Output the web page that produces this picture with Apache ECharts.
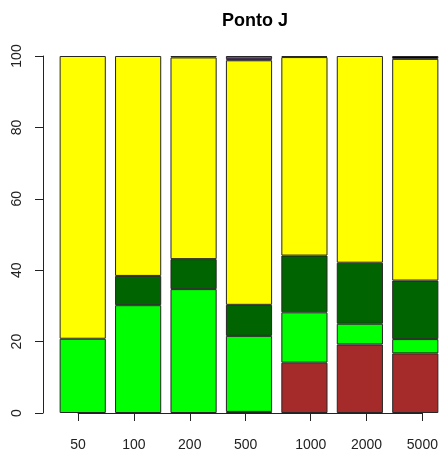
<!DOCTYPE html>
<html>
<head>
<meta charset="utf-8">
<script src="https://cdn.jsdelivr.net/npm/echarts@6/dist/echarts.min.js"></script>
<style>
  html, body { margin: 0; padding: 0; background: #fff; }
  #chart { width: 443px; height: 459px; }
</style>
</head>
<body>
<div id="chart"></div>
<script>
// Sample sizes along the x axis
const categories = ['50', '100', '200', '500', '1000', '2000', '5000'];

// Percentage share of each class per sample size (stacked bottom to top)
const brownVals     = [0,    0,    0,    0.3,  14.1, 19.2, 16.7];
const greenVals     = [20.8, 30.2, 34.7, 21.3, 14.1, 5.8,  4.0];
const darkGreenVals = [0,    8.2,  8.4,  8.7,  15.9, 17.1, 16.4];
const yellowVals    = [79.2, 61.6, 56.5, 68.5, 55.6, 57.9, 62.1];
const blackVals     = [0,    0,    0.4,  0.3,  0.3,  0,    0.8];
const purpleVals    = [0,    0,    0,    0.9,  0,    0,    0];

// Y tick labels
const yTicks = [0, 20, 40, 60, 80, 100];

const FONT = 'Liberation Sans, Arial, sans-serif';

// Empty segments are left out so they draw no border
function stackSeries(name, data, color) {
  return {
    name: name,
    type: 'bar',
    stack: 'total',
    data: data.map(function (v) { return v > 0 ? v : '-'; }),
    barWidth: '83.3%',
    xAxisIndex: 0,
    yAxisIndex: 0,
    itemStyle: { color: color, borderColor: '#262626', borderWidth: 1 },
    emphasis: { disabled: true }
  };
}

// Positions of the labelled ticks along the bar axis (bar units)
const labelAt = [0.6, 1.8, 3.0, 4.2, 5.6, 6.8, 8.0];

const chart = echarts.init(document.getElementById('chart'), null, { renderer: 'canvas' });

chart.setOption({
  backgroundColor: '#ffffff',
  animation: false,
  title: {
    text: 'Ponto J',
    left: 250,
    top: 7,
    textAlign: 'center',
    textStyle: { fontFamily: FONT, fontWeight: 'bold', fontSize: 18, color: '#000' }
  },
  grid: [
    { left: 55, width: 391, top: 56, height: 357 },
    { left: 78.1, width: 344.3, top: 56, height: 357 }
  ],
  xAxis: [
    {
      type: 'category',
      gridIndex: 0,
      data: categories,
      boundaryGap: true,
      axisLine: { show: false },
      axisTick: { show: false },
      axisLabel: { show: false }
    },
    {
      type: 'value',
      gridIndex: 1,
      min: labelAt[0],
      max: labelAt[labelAt.length - 1],
      offset: 4,
      splitLine: { show: false },
      axisLine: { show: true, lineStyle: { color: '#222', width: 1 } },
      axisTick: {
        show: true, length: 8, inside: false,
        customValues: labelAt,
        lineStyle: { color: '#222', width: 1 }
      },
      axisLabel: {
        show: true,
        customValues: labelAt,
        margin: 21,
        fontFamily: FONT,
        fontSize: 14,
        color: '#222',
        formatter: function (v) {
          const i = labelAt.findIndex(function (p) { return Math.abs(p - v) < 1e-6; });
          return i >= 0 ? categories[i] : '';
        }
      }
    }
  ],
  yAxis: [
    {
      type: 'value',
      gridIndex: 0,
      min: 0,
      max: 100,
      interval: 20,
      offset: 12,
      splitLine: { show: false },
      axisLine: { show: true, lineStyle: { color: '#222', width: 1 } },
      axisTick: { show: true, length: 8, inside: false, lineStyle: { color: '#222', width: 1 } },
      axisLabel: {
        rotate: 90,
        margin: 19,
        fontFamily: FONT,
        fontSize: 14,
        color: '#222',
        formatter: function (v) { return yTicks.indexOf(v) >= 0 ? String(v) : ''; }
      }
    },
    {
      type: 'value',
      gridIndex: 1,
      show: false,
      min: 0,
      max: 100
    }
  ],
  series: [
    stackSeries('brown', brownVals, '#a52a2a'),
    stackSeries('green', greenVals, '#00ff00'),
    stackSeries('darkgreen', darkGreenVals, '#006400'),
    stackSeries('yellow', yellowVals, '#ffff00'),
    stackSeries('black', blackVals, '#000000'),
    stackSeries('purple', purpleVals, '#a020f0')
  ]
});
</script>
</body>
</html>
